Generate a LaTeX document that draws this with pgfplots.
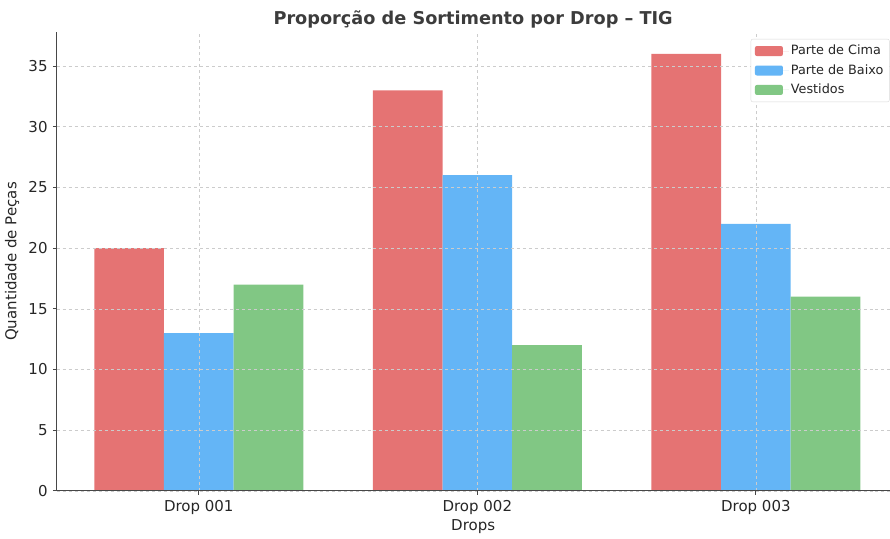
\documentclass[border=0pt]{standalone}
\usepackage{pgfplots}
\pgfplotsset{compat=1.18}
\usepackage{fontspec}
\setmainfont{DejaVu Sans}
\definecolor{cred}{HTML}{E57373}
\definecolor{cblue}{HTML}{64B5F6}
\definecolor{cgreen}{HTML}{81C784}
\definecolor{txt}{HTML}{262626}
\begin{document}
\begin{tikzpicture}[x=1bp,y=1bp]
\fontsize{15bp}{18bp}\selectfont
\begin{axis}[
  scale only axis,
  width=833bp, height=459bp,
  xmin=-0.51, xmax=2.48,
  ymin=0, ymax=37.8,
  axis lines*=left,
  axis line style={color=txt!85, line width=0.9pt},
  xtick={0,1,2},
  xticklabels={Drop 001, Drop 002, Drop 003},
  ytick={0,5,...,35},
  tick style={color=txt!85, line width=0.8pt},
  tick align=outside,
  major tick length=4bp,
  /pgf/number format/assume math mode=true,
  ticklabel style={color=txt, font=\fontsize{15bp}{18bp}\selectfont},
  grid=major,
  grid style={dashed, color=black!20, line width=0.5pt},
  axis on top,
  title={\textbf{Proporção de Sortimento por Drop – TIG}},
  title style={color=txt!90, font=\fontsize{17.7bp}{20bp}\selectfont, yshift=-7bp},
  xlabel={Drops},
  ylabel={Quantidade de Peças},
  label style={color=txt, font=\fontsize{15bp}{18bp}\selectfont},
  xlabel style={yshift=5bp},
  ylabel style={yshift=-1bp},
  ybar, bar width=0.25,
  legend style={at={(1.0,0.985)}, anchor=north east, draw=black!15, rounded corners=2bp,
    font=\fontsize{12.8bp}{15bp}\selectfont, text=txt, row sep=3.5bp, inner sep=4bp},
  legend cell align=left,
  legend image code/.code={\fill[#1] (0bp,-5bp) rectangle (28bp,5bp); \path (0bp,0bp) -- (34bp,0bp);},
]
\addplot[fill=cred, draw=none, bar shift=-0.25] coordinates {(0,20) (1,33) (2,36)};
\addplot[fill=cblue, draw=none, bar shift=0] coordinates {(0,13) (1,26) (2,22)};
\addplot[fill=cgreen, draw=none, bar shift=0.25] coordinates {(0,17) (1,12) (2,16)};
\legend{Parte de Cima, Parte de Baixo, Vestidos}
\end{axis}
\path (current axis.north) ++(0,32bp);
\end{tikzpicture}
\end{document}
